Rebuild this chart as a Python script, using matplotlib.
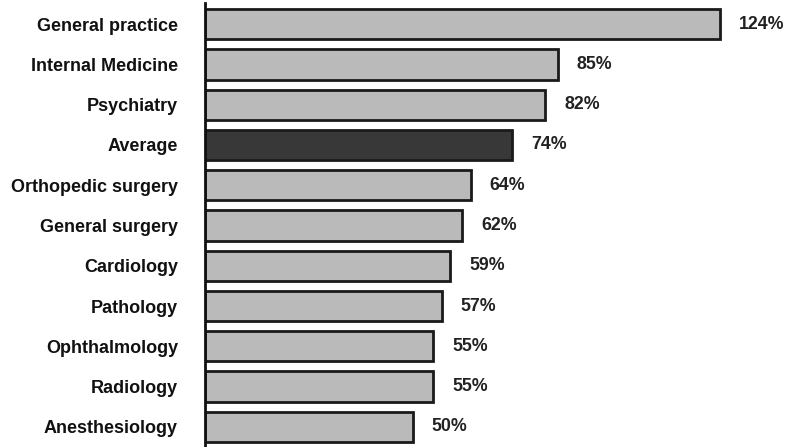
import matplotlib
matplotlib.use("Agg")
import matplotlib.pyplot as plt

categories = ["General practice", "Internal Medicine", "Psychiatry", "Average",
              "Orthopedic surgery", "General surgery", "Cardiology", "Pathology",
              "Ophthalmology", "Radiology", "Anesthesiology"]
values = [124, 85, 82, 74, 64, 62, 59, 57, 55, 55, 50]
labels = ["124%", "85%", "82%", "74%", "64%", "62%", "59%", "57%", "55%", "55%", "50%"]

plt.rcParams["font.family"] = ["Liberation Sans", "DejaVu Sans"]

fig = plt.figure(figsize=(7.87, 4.47), dpi=100)
ax = fig.add_axes([205 / 787, 0.0, 582 / 787, 1.0])

n = len(categories)
ypos = list(range(n))
colors = ["#383838" if c == "Average" else "#bababa" for c in categories]
ax.barh(ypos, values, height=0.75, color=colors, edgecolor="#1a1a1a", linewidth=2)

for y, v, t in zip(ypos, values, labels):
    ax.text(v + 4.6, y, t, va="center", ha="left", fontsize=12.8,
            fontweight="bold", color="#222222")

ax.set_yticks(ypos)
ax.set_yticklabels(categories, fontsize=13, fontweight="bold", color="#111111")
ax.tick_params(axis="y", length=0, pad=19.5)
ax.set_xticks([])
ax.set_xlim(0, 582 / 4.15)
ax.set_ylim(n - 0.5, -0.6)
for s in ["top", "right", "bottom"]:
    ax.spines[s].set_visible(False)
ax.spines["left"].set_linewidth(2)
ax.spines["left"].set_color("#111111")
ax.spines["left"].set_bounds(n - 0.5, -0.52)

fig.savefig("out.png", dpi=100)
